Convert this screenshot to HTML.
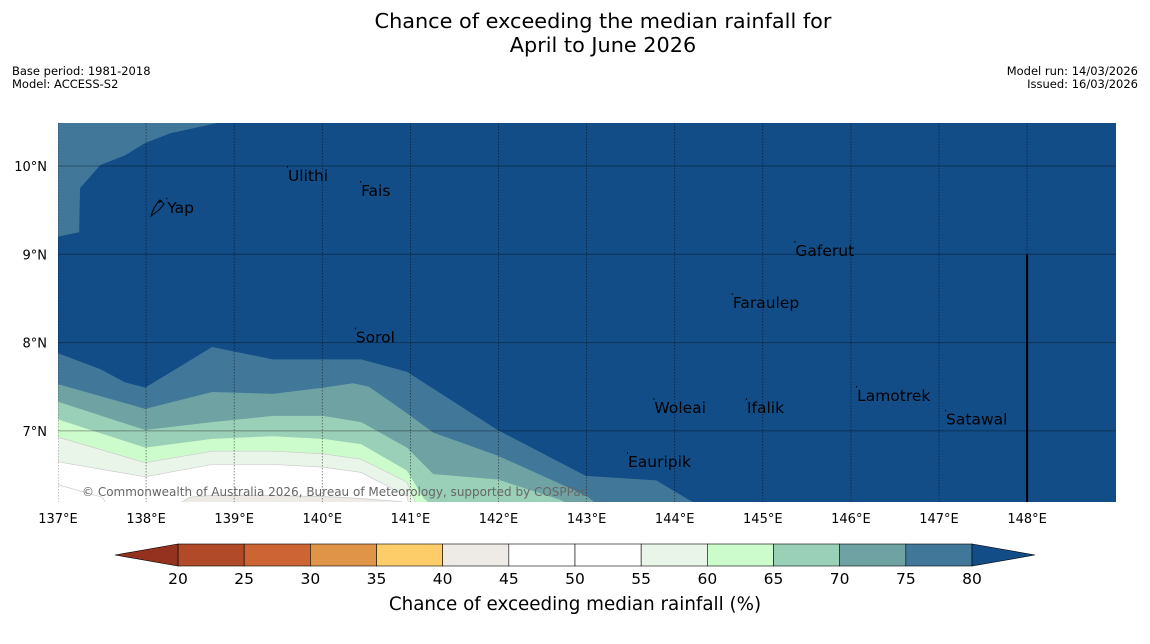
<!DOCTYPE html>
<html><head><meta charset="utf-8">
<style>
html,body{margin:0;padding:0;background:#fff;width:1150px;height:644px;overflow:hidden;font-family:"DejaVu Sans","Liberation Sans",sans-serif;}
svg{display:block}
</style></head>
<body>
<svg id="chart" width="1150" height="644" viewBox="0 0 1150 644" xmlns="http://www.w3.org/2000/svg" font-family="DejaVu Sans, Liberation Sans, sans-serif">
  <text x="603" y="28" font-size="20.8" text-anchor="middle">Chance of exceeding the median rainfall for</text>
  <text x="603" y="52" font-size="20.8" text-anchor="middle">April to June 2026</text>
  <text x="12" y="75" font-size="11.5">Base period: 1981-2018</text>
  <text x="12" y="88" font-size="11.5">Model: ACCESS-S2</text>
  <text x="1138" y="75" font-size="11.5" text-anchor="end">Model run: 14/03/2026</text>
  <text x="1138" y="88" font-size="11.5" text-anchor="end">Issued: 16/03/2026</text>
  <defs><clipPath id="mapclip"><rect x="58" y="123" width="1058" height="379"/></clipPath></defs>
  <g id="map" clip-path="url(#mapclip)"></g>
  <g id="axes"></g>
  <g id="cbar"></g>
  <text x="575" y="610" font-size="18.3" text-anchor="middle">Chance of exceeding median rainfall (%)</text>
</svg>
<script>
const lonTicks = [137,138,139,140,141,142,143,144,145,146,147,148];
const latTicks = [7,8,9,10];
const cbLevels = [20,25,30,35,40,45,50,55,60,65,70,75,80];
const cbColors = ['#b04a28','#cc6433','#e09448','#fdcd69','#eeebe6','#ffffff','#ffffff','#eaf5ea','#ccfccc','#9bd0b8','#6fa3a3','#41789a'];
// contour boundaries (lon, lat): region below each line is at most this level
const c80Lon = [137.00,137.48,137.76,137.99,138.75,139.44,140.44,140.96,141.99,142.99,143.79,144.16,144.4];
const c80Lat = [7.88,7.70,7.55,7.49,7.95,7.81,7.81,7.67,7.01,6.49,6.44,6.22,6.10];
const c75Lon = [137.00,137.99,138.75,139.44,140.01,140.35,140.53,140.96,141.26,141.99,142.99,143.21];
const c75Lat = [7.53,7.25,7.44,7.42,7.49,7.54,7.50,7.20,6.98,6.72,6.27,6.10];
const c70Lon = [137.00,137.99,138.75,139.44,140.01,140.44,140.96,141.26,141.99,142.70,142.93];
const c70Lat = [7.33,7.01,7.10,7.17,7.17,7.10,6.81,6.51,6.45,6.22,6.10];
const c65Lon = [137.00,137.99,138.75,139.44,140.01,140.44,140.96,141.15,141.30];
const c65Lat = [7.13,6.81,6.91,6.94,6.91,6.85,6.55,6.24,6.10];
const c60Lon = [137.00,137.99,138.75,139.44,140.01,140.44,140.96,141.10];
const c60Lat = [6.93,6.64,6.77,6.77,6.74,6.68,6.42,6.10];
const c55Lon = [137.00,137.99,138.75,139.44,140.01,140.44,140.96,141.00];
const c55Lat = [6.65,6.48,6.62,6.62,6.59,6.53,6.26,6.10];
const c45Lon = [137.00,137.50,137.60];
const c45Lat = [6.39,6.25,6.10];
const c40Lon = [138.25,138.50,138.75,139.40,140.20,140.90,141.00];
const c40Lat = [6.10,6.25,6.27,6.27,6.25,6.20,6.10];
const topLon = [137.00,138.82,138.27,137.99,137.76,137.48,137.25,137.24,137.00];
const topLat = [10.49,10.49,10.37,10.26,10.12,10.01,9.75,9.25,9.20];
const places = ['Yap','Ulithi','Fais','Gaferut','Faraulep','Sorol','Lamotrek','Woleai','Ifalik','Satawal','Eauripik'];
const placeLon = [138.24,139.61,140.44,145.37,144.66,140.38,146.07,143.77,144.82,147.08,143.47];
const placeLat = [9.47,9.83,9.66,8.98,8.39,8.00,7.34,7.20,7.20,7.07,6.59];

const NS='http://www.w3.org/2000/svg';
const X = lon => 58 + (lon-137)*88.1;
const Y = lat => 166 - (lat-10)*88.3;
function mk(tag, attrs, parent){const e=document.createElementNS(NS,tag);for(const k in attrs)e.setAttribute(k,attrs[k]);parent.appendChild(e);return e;}
const map=document.getElementById('map'), axes=document.getElementById('axes'), cbar=document.getElementById('cbar');

let bg=mk('rect',{x:58,y:123,width:1058,height:379,fill:'#134d88'},map);



const bands=[[c80Lon,c80Lat,'#41789a','band-75-80'],[c75Lon,c75Lat,'#6fa3a3','band-70-75'],[c70Lon,c70Lat,'#9bd0b8','band-65-70'],[c65Lon,c65Lat,'#ccfccc','band-60-65'],[c60Lon,c60Lat,'#eaf5ea','band-55-60'],[c55Lon,c55Lat,'#ffffff','band-50-55'],[c45Lon,c45Lat,'#ffffff','band-40-45']];
bands.forEach(b=>{
  let pts=b[0].map((lon,i)=>X(lon)+','+Y(b[1][i]));
  const last=b[0].length-1;
  pts.push(X(b[0][last])+','+520); pts.push(X(136.5)+','+520); pts.push(X(136.5)+','+Y(b[1][0]));
  const p=mk('polygon',{points:pts.join(' '),fill:b[2],stroke:b[2]==='#ffffff'||b[2]==='#eaf5ea'?'#cccccc':'none','stroke-width':0.7},map);
  
  
});
{
  const p=mk('polygon',{points:c40Lon.map((lon,i)=>X(lon)+','+Y(c40Lat[i])).join(' '),fill:'#eeebe6',stroke:'#cccccc','stroke-width':0.7},map);
  
  
  const t=mk('polygon',{points:topLon.map((lon,i)=>X(lon)+','+Y(topLat[i])).join(' '),fill:'#41789a'},map);
  
  
}
lonTicks.forEach(lon=>{
  const l=mk('line',{x1:X(lon),x2:X(lon),y1:123,y2:502,stroke:'rgba(0,0,0,0.55)','stroke-width':0.8,'stroke-dasharray':'1.5,1.5'},map);
  
  
  const t=mk('text',{x:X(lon),y:523,'font-size':13,'text-anchor':'middle'},axes);
  t.textContent=lon+'°E';
  
  
});
latTicks.forEach(lat=>{
  const l=mk('line',{x1:58,x2:1116,y1:Y(lat),y2:Y(lat),stroke:'rgba(0,0,0,0.35)','stroke-width':1},map);
  
  
  const t=mk('text',{x:47,y:Y(lat)+5,'font-size':13,'text-anchor':'end'},axes);
  t.textContent=lat+'°N';
  
  
});
{
  const l=mk('line',{x1:X(148),x2:X(148),y1:Y(9),y2:502,stroke:'#000','stroke-width':2},map);
  
  
  const y=mk('path',{d:'M151,216 C153,209 157,203 160,200 L164,204 L159,210 Z M157,203 L162,201',fill:'none',stroke:'#000','stroke-width':1},map);
  
  
}
places.forEach((n,i)=>{
  const t=mk('text',{x:X(placeLon[i]),y:Y(placeLat[i]),'font-size':15.5,fill:'#000'},map);
  t.textContent=n;
  
  
  const d=mk('rect',{x:X(placeLon[i])-1,y:Y(placeLat[i])-15,width:1,height:1.5,fill:'#000'},map);
  
  
});
{
  const c=mk('text',{x:82,y:496,'font-size':12,fill:'#666'},map);
  c.textContent='© Commonwealth of Australia 2026, Bureau of Meteorology, supported by COSPPac';
  
  
}
// colorbar
const cb0=178, cb1=972, cy0=544, cy1=566;
const CX = v => cb0 + (v-20)/(80-20)*(cb1-cb0);
cbColors.forEach((col,i)=>{
  const r=mk('rect',{x:CX(cbLevels[i]),y:cy0,width:CX(cbLevels[i+1])-CX(cbLevels[i]),height:cy1-cy0,fill:col,stroke:'#000','stroke-width':0.6},cbar);
  
  
});
{
  const l=mk('polygon',{points:`${cb0},${cy0} ${cb0},${cy1} 115,555`,fill:'#94321f',stroke:'#000','stroke-width':0.6},cbar);
  
  
  const r=mk('polygon',{points:`${cb1},${cy0} ${cb1},${cy1} 1035,555`,fill:'#134d88',stroke:'#000','stroke-width':0.6},cbar);
  
  
}
cbLevels.forEach(v=>{
  const t=mk('text',{x:CX(v),y:584,'font-size':15.5,'text-anchor':'middle'},cbar);
  t.textContent=v;
  
  
});
</script>
</body></html>
